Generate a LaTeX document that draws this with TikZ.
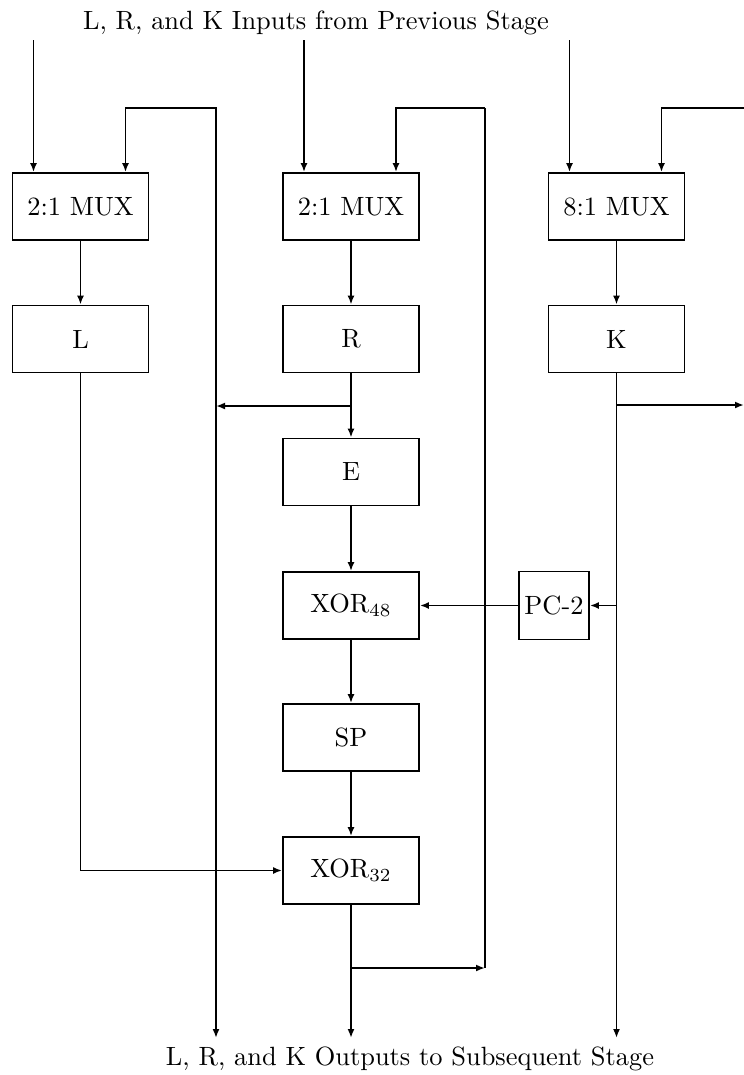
\documentclass[tikz,border=0pt]{standalone}
\usepackage{graphicx}
\usetikzlibrary{arrows.meta,calc}
\newcommand{\lbl}[1]{\scalebox{2.65}{#1}}
\tikzset{
  blk/.style={draw, line width=1.8bp, minimum width=136bp, minimum height=67bp, inner sep=0pt},
  wire/.style={line width=1.8bp},
  arr/.style={wire, -{Latex[length=9bp,width=7bp]}},
  darr/.style={wire, {Latex[length=9bp,width=7bp]}-{Latex[length=9bp,width=7bp]}}
}
\begin{document}
\begin{tikzpicture}[x=1bp,y=-1bp]
\useasboundingbox (0,0) rectangle (744,1075);
% titles
\node[anchor=base, inner sep=0pt] (tin) at (316,29) {\lbl{L, R, and K Inputs from Previous Stage}};
\node[anchor=base, inner sep=0pt] (tout) at (410,1065) {\lbl{L, R, and K Outputs to Subsequent Stage}};
% boxes
\node[blk] (mux1) at (80.5,206.5) {\lbl{2:1 MUX}};
\node[blk] (L) at (80.5,339) {\lbl{L}};
\node[blk] (mux2) at (351,206.5) {\lbl{2:1 MUX}};
\node[blk] (R) at (351,339) {\lbl{R}};
\node[blk] (E) at (351,472) {\lbl{E}};
\node[blk] (x48) at (351,605.5) {\lbl{XOR$_{48}$}};
\node[blk] (SP) at (351,737.5) {\lbl{SP}};
\node[blk] (x32) at (351,870.5) {\lbl{XOR$_{32}$}};
\node[blk] (mux3) at (616.5,206.5) {\lbl{8:1 MUX}};
\node[blk] (K) at (616.5,339) {\lbl{K}};
\node[blk, minimum width=70bp, minimum height=68bp] (pc2) at (554,605.5) {\lbl{PC-2}};
% coordinates
\coordinate (in1) at (33.5,40);
\coordinate (in2) at (304,40);
\coordinate (in3) at (569.5,40);
\coordinate (fb1) at (125.5,108);
\coordinate (fb2) at (396,108);
\coordinate (fb3) at (661.5,108);
\coordinate (lp1t) at (216,108);
\coordinate (lp1b) at (216,1038);
\coordinate (lp2t) at (485,108);
\coordinate (lp2b) at (485,968);
\coordinate (rbr) at (351,406);
\coordinate (kbr) at (616.5,405);
\coordinate (kend) at (744,405);
\coordinate (kloop) at (744,108);
\coordinate (kpc) at (616.5,605.5);
\coordinate (xbr) at (351,968);
\coordinate (out2) at (351,1038);
\coordinate (out3) at (616.5,1038);
\coordinate (lcorner) at (80.5,870.5);
% inputs
\draw[arr] (in1) -- (in1 |- mux1.north);
\draw[arr] (in2) -- (in2 |- mux2.north);
\draw[arr] (in3) -- (in3 |- mux3.north);
% feedback loops
\draw[darr] (fb1 |- mux1.north) -- (fb1) -- (lp1t) -- (lp1b);
\draw[arr] (lp2t) -- (fb2) -- (fb2 |- mux2.north);
\draw[wire] (lp2t) -- (lp2b);
\draw[arr] (kloop) -- (fb3) -- (fb3 |- mux3.north);
% column flows
\draw[arr] (mux1) -- (L);
\draw[arr] (mux2) -- (R);
\draw[arr] (R) -- (E);
\draw[arr] (rbr) -- (lp1t |- rbr);
\draw[arr] (E) -- (x48);
\draw[arr] (x48) -- (SP);
\draw[arr] (SP) -- (x32);
\draw[arr] (L.south) -- (lcorner) -- (x32.west);
\draw[arr] (x32.south) -- (out2);
\draw[arr] (xbr) -- (lp2b);
\draw[arr] (mux3) -- (K);
\draw[arr] (K.south) -- (out3);
\draw[arr] (kbr) -- (kend);
\draw[arr] (kpc) -- (pc2.east);
\draw[arr] (pc2.west) -- (x48.east);
\end{tikzpicture}
\end{document}
